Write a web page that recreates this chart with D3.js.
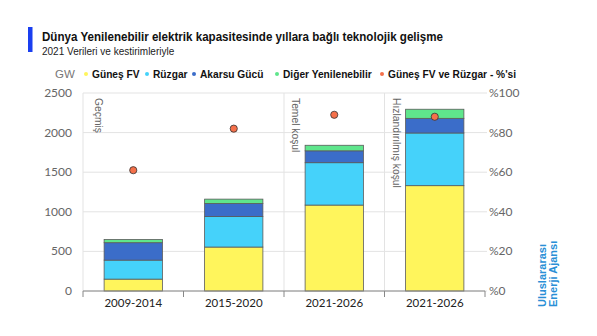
<!DOCTYPE html>
<html><head><meta charset="utf-8">
<script src="https://cdn.jsdelivr.net/npm/d3@7"></script>
<style>body{margin:0;background:#fff}svg{display:block}</style>
</head><body>
<svg id="c" width="597" height="336"></svg>
<script>
const categories = ["2009-2014","2015-2020","2021-2026","2021-2026"];
const solar = [150, 555, 1085, 1330];
const wind  = [240, 385, 535, 665];
const hydro = [220, 165, 150, 185];
const other = [40, 55, 70, 115];
const share = [61, 82, 89, 88];
const seriesNames = ["Güneş FV","Rüzgar","Akarsu Gücü","Diğer Yenilenebilir"];
const shareName = "Güneş FV ve Rüzgar - %'si";
const leftTicks = [0,500,1000,1500,2000,2500];
const rightTicks = [0,20,40,60,80,100];
const scenarios = [{label:"Geçmiş", from:0},{label:"Temel koşul", from:2},{label:"Hızlandırılmış koşul", from:3}];

const colors = ["#fff55c","#45d2fa","#3b6dc9","#5fe68c"];
const dotColor = "#f5704a";

const svg = d3.select("#c");
const L = 83, R = 485, T = 93, B = 291;
const idx = categories.map((d,i)=>i);
const x = d3.scaleBand().domain(idx).range([L,R]).paddingInner(0.42).paddingOuter(0.21);
const y = d3.scaleLinear().domain([0,2500]).range([B,T]);
const y2 = d3.scaleLinear().domain([0,100]).range([B,T]);

// title
svg.append("rect").attr("x",28).attr("y",27).attr("width",4.5).attr("height",25).attr("fill","#1a3ff0");
svg.append("text").attr("x",42).attr("y",40.5).attr("font-family","Liberation Sans, Arial, sans-serif")
  .attr("font-weight","bold").attr("font-size",12.5).attr("fill","#111")
  .attr("textLength",401).attr("lengthAdjust","spacingAndGlyphs")
  .text("Dünya Yenilenebilir elektrik kapasitesinde yıllara bağlı teknolojik gelişme");
svg.append("text").attr("x",42).attr("y",55).attr("font-family","Liberation Sans, Arial, sans-serif")
  .attr("font-size",10).attr("fill","#222").text("2021 Verileri ve kestirimleriyle");

// legend
const lg = svg.append("g").attr("font-family","Liberation Sans, Arial, sans-serif").attr("font-size",10.2);
lg.append("text").attr("x",55).attr("y",78).attr("fill","#777").attr("font-size",11.5).text("GW");
const legItems = seriesNames.map((n,i)=>({n,c:colors[i]})).concat([{n:shareName,c:dotColor}]);
const legX = [86,147,194,277,382];
legItems.forEach((d,i)=>{
  lg.append("circle").attr("cx",legX[i]).attr("cy",74).attr("r",2).attr("fill",d.c);
  lg.append("text").attr("x",legX[i]+6).attr("y",77.5).attr("font-weight","bold").attr("fill","#111").text(d.n);
});

// gridlines
const g = svg.append("g");
g.selectAll("line.h").data(leftTicks).join("line")
  .attr("x1",L).attr("x2",R+2).attr("y1",d=>y(d)).attr("y2",d=>y(d))
  .attr("stroke","#e3e3e3").attr("stroke-width",1);
const sx = d=> d.from===0 ? L : x(d.from)-x.step()*x.paddingInner()/2;
g.selectAll("line.v").data(scenarios).join("line")
  .attr("x1",sx).attr("x2",sx)
  .attr("y1",T).attr("y2",B).attr("stroke","#e3e3e3");
g.selectAll("text.s").data(scenarios).join("text")
  .attr("transform",d=>`translate(${sx(d)+(d.from===0?12:8)},${T+5}) rotate(90)`)
  .attr("font-family","Liberation Sans, Arial, sans-serif").attr("font-size",10.3).attr("fill","#666")
  .text(d=>d.label);

// left axis labels
svg.append("g").selectAll("text").data(leftTicks).join("text")
  .attr("x",72).attr("y",d=>y(d)+4).attr("text-anchor","end")
  .attr("font-family","Lato, sans-serif").attr("font-size",12).attr("fill","#666").text(d=>d);
// right axis labels
svg.append("g").selectAll("text").data(rightTicks).join("text")
  .attr("x",489).attr("y",d=>y2(d)+4)
  .attr("font-family","Lato, sans-serif").attr("font-size",12).attr("fill","#666").text(d=>"%"+d);

// stacked bars
const rows = idx.map(i=>({i, s:solar[i], w:wind[i], h:hydro[i], o:other[i]}));
const stack = d3.stack().keys(["s","w","h","o"])(rows);
svg.append("g").selectAll("g").data(stack).join("g").attr("fill",(d,k)=>colors[k])
  .selectAll("rect").data(d=>d).join("rect")
  .attr("x",d=>x(d.data.i)).attr("width",x.bandwidth())
  .attr("y",d=>y(d[1])).attr("height",d=>y(d[0])-y(d[1]))
  .attr("stroke","#5a5a5a").attr("stroke-width",0.8);

// bottom axis
const ax = svg.append("g").attr("transform",`translate(0,${B})`);
ax.append("line").attr("x1",L).attr("x2",R).attr("stroke","#888");
const bounds = idx.map(i=>x(i)-x.step()*x.paddingInner()/2).concat([R]);
bounds[0]=L;
ax.selectAll("line.t").data(bounds).join("line").attr("x1",d=>d).attr("x2",d=>d).attr("y1",0).attr("y2",6).attr("stroke","#888");
ax.selectAll("text").data(idx).join("text").attr("x",d=>x(d)+x.bandwidth()/2).attr("y",16)
  .attr("text-anchor","middle").attr("font-family","Lato, sans-serif").attr("font-size",11.5).attr("fill","#222")
  .text(d=>categories[d]);

// dots
svg.append("g").selectAll("circle").data(idx).join("circle")
  .attr("cx",d=>x(d)+x.bandwidth()/2).attr("cy",d=>y2(share[d])).attr("r",3.6)
  .attr("fill",dotColor).attr("stroke","#333").attr("stroke-width",0.8);

// source
const src = svg.append("text")
  .attr("font-family","Liberation Sans, Arial, sans-serif").attr("font-weight","bold").attr("font-size",11).attr("fill","#2a8fd6");
src.append("tspan").attr("x",0).attr("y",0).text("Uluslararası");
src.append("tspan").attr("x",0).attr("y",11).text("Enerji Ajansı");
src.attr("transform","translate(546,307) rotate(-90)");
</script>
</body></html>
